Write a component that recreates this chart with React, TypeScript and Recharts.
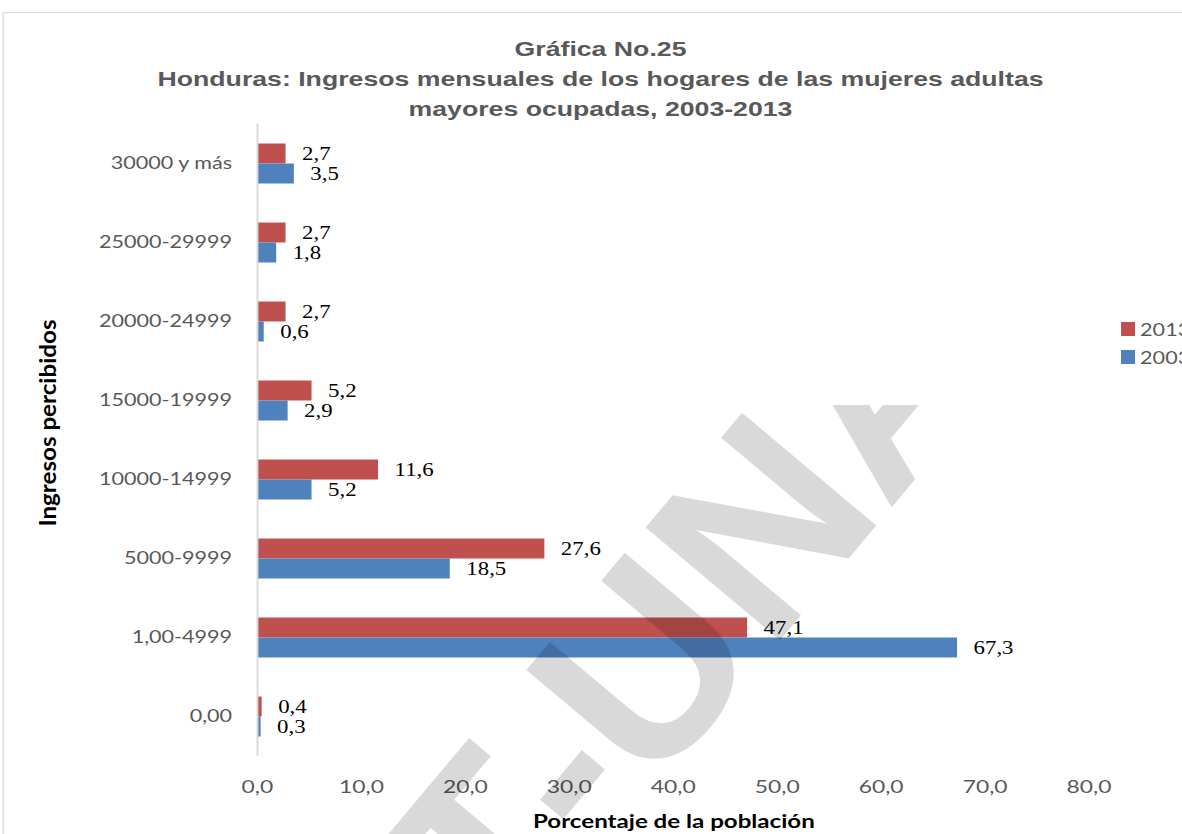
import React from "react";
import { BarChart, Bar, XAxis, YAxis, LabelList, Legend, Label } from "recharts";

const categories = [
  "30000 y más",
  "25000-29999",
  "20000-24999",
  "15000-19999",
  "10000-14999",
  "5000-9999",
  "1,00-4999",
  "0,00",
];
const values2013 = [2.7, 2.7, 2.7, 5.2, 11.6, 27.6, 47.1, 0.4];
const values2003 = [3.5, 1.8, 0.6, 2.9, 5.2, 18.5, 67.3, 0.3];
const xTicks = [0, 10, 20, 30, 40, 50, 60, 70, 80];
const seriesNames = ["2013", "2003"];
const seriesColors = ["#C0504D", "#4F81BD"];
const titleLines = [
  "Gráfica No.25",
  "Honduras: Ingresos mensuales de los hogares de las mujeres adultas",
  "mayores ocupadas, 2003-2013",
];
const xTitle = "Porcentaje de la población";
const yTitle = "Ingresos percibidos";
const watermarkText = "T-UNAH";

const data = categories.map((name, i) => ({
  name,
  y2013: values2013[i],
  y2003: values2003[i],
}));

const fmt = (v: any) => Number(v).toFixed(1).replace(".", ",");

const SCALE_X = 1182 / 931;
const INNER_W = 931;
const H = 834;

const renderLegend = () => (
  <div style={{ fontFamily: "Lato", fontSize: 17, color: "#595959" }}>
    {seriesNames.map((n, i) => (
      <div key={n} style={{ display: "flex", alignItems: "center", height: 28, whiteSpace: "nowrap" }}>
        <span style={{ display: "inline-block", width: 11, height: 14, background: seriesColors[i], marginRight: 4 }} />
        <span>{n}</span>
      </div>
    ))}
  </div>
);

export default function App() {
  return (
    <div
      style={{
        position: "absolute",
        left: 0,
        top: 0,
        width: 1182,
        height: H,
        overflow: "hidden",
        background: "#fff",
      }}
    >
      <div
        style={{
          position: "absolute",
          left: 0,
          top: 0,
          width: INNER_W,
          height: H,
          transform: `scaleX(${SCALE_X})`,
          transformOrigin: "0 0",
        }}
      >
        <div
          style={{
            position: "absolute",
            left: 2.4,
            top: 12,
            width: 1000,
            height: 1000,
            border: "1px solid #d9d9d9",
            boxSizing: "border-box",
          }}
        />
        <div
          style={{
            position: "absolute",
            left: 0,
            top: 34.4,
            width: 946,
            textAlign: "center",
            fontFamily: "'Liberation Sans', Arial, sans-serif",
            fontWeight: "bold",
            fontSize: 21,
            lineHeight: "30px",
            color: "#595959",
          }}
        >
          {titleLines.map((t) => (
            <div key={t}>{t}</div>
          ))}
        </div>
        <div style={{ position: "absolute", left: 0, top: 0 }}>
          <BarChart
            width={INNER_W}
            height={H}
            data={data}
            layout="vertical"
            margin={{ top: 123.5, right: 73.2, bottom: 0, left: 0 }}
            barGap={0}
          >
            <XAxis
              type="number"
              domain={[0, 80]}
              ticks={xTicks}
              tickFormatter={fmt}
              axisLine={false}
              tickLine={false}
              tickSize={0}
              tickMargin={24.5}
              height={78.5}
              interval={0}
              tick={{ fill: "#595959", fontSize: 18, fontFamily: "Lato" }}
            >
              <Label
                content={(p: any) => {
                  const vb = p.viewBox || {};
                  return (
                    <text
                      x={(vb.x || 0) + (vb.width || 0) / 2 + 0.5}
                      y={828}
                      textAnchor="middle"
                      fontFamily="Lato"
                      fontWeight="bold"
                      fontSize={19}
                      fill="#000"
                    >
                      {xTitle}
                    </text>
                  );
                }}
              />
            </XAxis>
            <YAxis
              type="category"
              dataKey="name"
              width={202.8}
              axisLine={{ stroke: "#d9d9d9", strokeWidth: 1.5 }}
              tickLine={false}
              tickSize={0}
              tickMargin={20}
              interval={0}
              tick={{ fill: "#595959", fontSize: 17, fontFamily: "Lato" }}
            >
              <Label
                content={() => (
                  <text
                    transform="translate(37,423) rotate(-90) scale(1.3,1)"
                    textAnchor="middle"
                    dominantBaseline="central"
                    fontFamily="Lato"
                    fontWeight="bold"
                    fontSize={18.6}
                    fill="#000"
                  >
                    {yTitle}
                  </text>
                )}
              />
            </YAxis>
            <Legend
              layout="horizontal"
              align="center"
              verticalAlign="middle"
              content={renderLegend}
              wrapperStyle={{ left: 883, top: 315, width: 60 }}
            />
            <Bar dataKey="y2013" name={seriesNames[0]} fill={seriesColors[0]} barSize={20} isAnimationActive={false}>
              <LabelList
                dataKey="y2013"
                position="right"
                offset={13}
                formatter={fmt}
                style={{ fontFamily: "'Liberation Serif', serif", fontSize: 18, fill: "#000" }}
              />
            </Bar>
            <Bar dataKey="y2003" name={seriesNames[1]} fill={seriesColors[1]} barSize={20} isAnimationActive={false}>
              <LabelList
                dataKey="y2003"
                position="right"
                offset={13}
                formatter={fmt}
                style={{ fontFamily: "'Liberation Serif', serif", fontSize: 18, fill: "#000" }}
              />
            </Bar>
          </BarChart>
        </div>
      </div>
      <svg
        width={1182}
        height={H}
        style={{ position: "absolute", left: 0, top: 0, pointerEvents: "none" }}
      >
        <defs>
          <clipPath id="wmclip">
            <rect x={0} y={405} width={1182} height={H - 405} />
          </clipPath>
        </defs>
        <g clipPath="url(#wmclip)">
          <text
            transform="translate(505,968) rotate(-50)"
            fontFamily="'Liberation Sans', Arial, sans-serif"
            fontWeight="bold"
            fontSize={255}
            fill="#000"
            fillOpacity={0.15}
          >
            {watermarkText}
          </text>
        </g>
      </svg>
    </div>
  );
}
